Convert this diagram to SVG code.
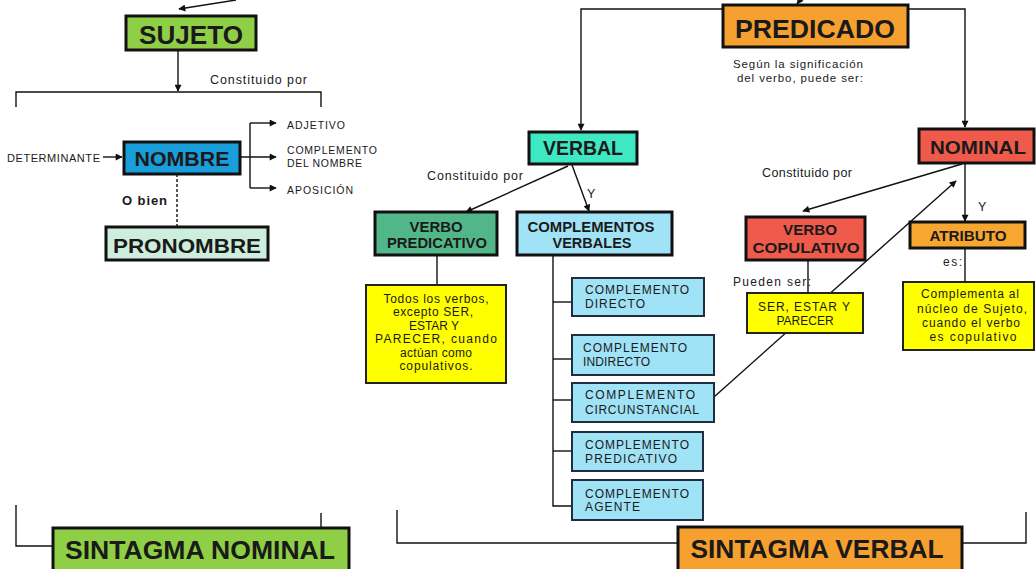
<svg xmlns="http://www.w3.org/2000/svg" width="1036" height="569" viewBox="0 0 1036 569">
<defs>
<marker id="ah" viewBox="0 0 10 10" refX="9" refY="5" markerWidth="8" markerHeight="7" orient="auto" markerUnits="userSpaceOnUse"><path d="M0,0 L10,5 L0,10 z" fill="#111"/></marker>
</defs>
<style>
text{font-family:"Liberation Sans",Arial,sans-serif;fill:#1a1a1a}
.b{font-weight:bold}
.c{text-anchor:middle}
.box{stroke:#111;stroke-width:3}
.cb{fill:#a0e2f6;stroke:#1f2f3f;stroke-width:2}
.yb{fill:#ffff00;stroke:#222;stroke-width:2}
.ln{fill:none;stroke:#111;stroke-width:1.4}
.ar{marker-end:url(#ah)}
.s10{font-size:10.5px}
.s11{font-size:12px}
.s12{font-size:12.5px}
.s14{font-size:14px}
.big{font-size:26px}
</style>
<rect width="1036" height="569" fill="#ffffff"/>
<g id="connectors">
<line class="ln ar" x1="236" y1="0" x2="179" y2="9"/>
<line class="ln ar" x1="806" y1="-8" x2="797" y2="4"/>
<line class="ln ar" x1="178" y1="50" x2="178" y2="91"/>
<path class="ln" d="M16,107 V92 H321 V107"/>
<line class="ln ar" x1="103" y1="157" x2="122" y2="157"/>
<line class="ln ar" x1="240" y1="157" x2="276" y2="157"/>
<path class="ln" d="M250,123 V188"/>
<line class="ln ar" x1="250" y1="123" x2="276" y2="123"/>
<line class="ln ar" x1="250" y1="188" x2="276" y2="188"/>
<line class="ln" x1="177" y1="174" x2="177" y2="227" stroke-dasharray="3,2"/>
<path class="ln ar" d="M723,9 H581 V130"/>
<path class="ln ar" d="M908,9 H965 V127"/>
<line class="ln ar" x1="568" y1="166" x2="466" y2="212"/>
<line class="ln ar" x1="572" y1="165" x2="589" y2="211"/>
<line class="ln" x1="437" y1="255" x2="437" y2="285"/>
<path class="ln" d="M553,255 V506 H572"/>
<line class="ln" x1="553" y1="302" x2="572" y2="302"/>
<line class="ln" x1="553" y1="359" x2="572" y2="359"/>
<line class="ln" x1="553" y1="400" x2="572" y2="400"/>
<line class="ln" x1="553" y1="451" x2="572" y2="451"/>
<line class="ln ar" x1="714" y1="397" x2="956" y2="181"/>
<line class="ln ar" x1="962" y1="164" x2="803" y2="211"/>
<line class="ln ar" x1="965" y1="163" x2="965" y2="221"/>
<line class="ln" x1="808" y1="260" x2="808" y2="293"/>
<line class="ln" x1="965" y1="248" x2="965" y2="282"/>
<path class="ln" d="M16,505 V546 H53"/>
<line class="ln" x1="321" y1="513" x2="321" y2="528"/>
<path class="ln" d="M397,510 V543 H678"/>
<path class="ln" d="M962,543 H1026 V512"/>
<text class="s12" x="210" y="84" textLength="97" lengthAdjust="spacing">Constituido por</text>
<text class="b" x="122" y="205" font-size="13" textLength="45" lengthAdjust="spacing">O bien</text>
<text x="733" y="68" font-size="11.5" textLength="130" lengthAdjust="spacing">Según la significación</text>
<text x="737" y="82" font-size="11.5" textLength="126" lengthAdjust="spacing">del verbo, puede ser:</text>
<text class="s12" x="427" y="180" textLength="96" lengthAdjust="spacing">Constituido por</text>
<text class="s12" x="587" y="198">Y</text>
<text class="s12" x="762" y="177" textLength="90" lengthAdjust="spacing">Constituido por</text>
<text class="s12" x="978" y="211">Y</text>
<text class="s11" x="733" y="286" textLength="78" lengthAdjust="spacing">Pueden ser:</text>
<text class="s11" x="943" y="266" textLength="19" lengthAdjust="spacing">es:</text>
</g>
<g id="sujeto">
<rect class="box" x="126" y="16" width="130" height="34" fill="#8fcf45"/>
<text class="b c big" x="191" y="44" textLength="104" lengthAdjust="spacingAndGlyphs">SUJETO</text>
</g>
<g id="determinante">
<text x="7" y="162" font-size="11" textLength="93" lengthAdjust="spacing">DETERMINANTE</text>
</g>
<g id="nombre">
<rect class="box" x="124" y="142" width="116" height="32" fill="#1a9ddb"/>
<text class="b c" x="182" y="166" font-size="20" fill="#0d1b2a" textLength="95" lengthAdjust="spacingAndGlyphs">NOMBRE</text>
</g>
<g id="adjetivo"><text class="s10" x="287" y="129" textLength="58" lengthAdjust="spacing">ADJETIVO</text></g>
<g id="complemento-nombre">
<text class="s10" x="287" y="154" textLength="90" lengthAdjust="spacing">COMPLEMENTO</text>
<text class="s10" x="287" y="167" textLength="75" lengthAdjust="spacing">DEL NOMBRE</text>
</g>
<g id="aposicion"><text class="s10" x="287" y="194" textLength="66" lengthAdjust="spacing">APOSICIÓN</text></g>
<g id="pronombre">
<rect class="box" x="106" y="227" width="162" height="33" fill="#cdeedd"/>
<text class="b c" x="187" y="253" font-size="21" textLength="148" lengthAdjust="spacingAndGlyphs">PRONOMBRE</text>
</g>
<g id="predicado">
<rect class="box" x="723" y="5" width="185" height="42" fill="#f6a030"/>
<text class="b c big" x="815" y="38" fill="#2b1a0a" textLength="160" lengthAdjust="spacingAndGlyphs">PREDICADO</text>
</g>
<g id="verbal">
<rect class="box" x="529" y="132" width="108" height="32" fill="#3ee8c2"/>
<text class="b c" x="583" y="155" font-size="20" textLength="80" lengthAdjust="spacingAndGlyphs">VERBAL</text>
</g>
<g id="verbo-predicativo">
<rect class="box" x="375" y="212" width="122" height="43" fill="#52b788"/>
<text class="b c s14" x="436" y="232" textLength="53" lengthAdjust="spacingAndGlyphs">VERBO</text>
<text class="b c s14" x="437" y="248" textLength="100" lengthAdjust="spacingAndGlyphs">PREDICATIVO</text>
</g>
<g id="complementos-verbales">
<rect class="box" x="517" y="212" width="155" height="43" fill="#a0e2f6"/>
<text class="b c s14" x="591" y="232" textLength="127" lengthAdjust="spacingAndGlyphs">COMPLEMENTOS</text>
<text class="b c s14" x="592" y="248" textLength="79" lengthAdjust="spacingAndGlyphs">VERBALES</text>
</g>
<g id="todos-verbos">
<rect class="yb" x="366" y="285" width="140" height="98"/>
<text class="c s11" x="436" y="303" textLength="105" lengthAdjust="spacing">Todos los verbos,</text>
<text class="c s11" x="433" y="316" textLength="80" lengthAdjust="spacing">excepto SER,</text>
<text class="c s11" x="434" y="330">ESTAR Y</text>
<text class="c s11" x="436" y="343" textLength="122" lengthAdjust="spacing">PARECER, cuando</text>
<text class="c s11" x="436" y="357" textLength="72" lengthAdjust="spacing">actúan como</text>
<text class="c s11" x="436" y="370" textLength="73" lengthAdjust="spacing">copulativos.</text>
</g>
<g id="c-directo">
<rect class="cb" x="572" y="278" width="132" height="38"/>
<text class="s11" x="585" y="294" textLength="104" lengthAdjust="spacing">COMPLEMENTO</text>
<text class="s11" x="585" y="308" textLength="60" lengthAdjust="spacing">DIRECTO</text>
</g>
<g id="c-indirecto">
<rect class="cb" x="572" y="335" width="142" height="40"/>
<text class="s11" x="583" y="352" textLength="104" lengthAdjust="spacing">COMPLEMENTO</text>
<text class="s11" x="583" y="366" textLength="67" lengthAdjust="spacing">INDIRECTO</text>
</g>
<g id="c-circunstancial">
<rect class="cb" x="572" y="383" width="142" height="39"/>
<text class="s11" x="585" y="399" textLength="110" lengthAdjust="spacing">COMPLEMENTO</text>
<text class="s11" x="585" y="414" textLength="114" lengthAdjust="spacing">CIRCUNSTANCIAL</text>
</g>
<g id="c-predicativo">
<rect class="cb" x="572" y="432" width="131" height="39"/>
<text class="s11" x="585" y="449" textLength="104" lengthAdjust="spacing">COMPLEMENTO</text>
<text class="s11" x="585" y="463" textLength="92" lengthAdjust="spacing">PREDICATIVO</text>
</g>
<g id="c-agente">
<rect class="cb" x="572" y="480" width="131" height="40"/>
<text class="s11" x="585" y="498" textLength="104" lengthAdjust="spacing">COMPLEMENTO</text>
<text class="s11" x="585" y="511" textLength="55" lengthAdjust="spacing">AGENTE</text>
</g>
<g id="nominal">
<rect class="box" x="919" y="129" width="115" height="34" fill="#ef5a4a"/>
<text class="b c" x="978" y="154" font-size="19" textLength="96" lengthAdjust="spacingAndGlyphs">NOMINAL</text>
</g>
<g id="verbo-copulativo">
<rect class="box" x="746" y="217" width="119" height="43" fill="#ef5a4a"/>
<text class="b c s14" x="810" y="235" textLength="54" lengthAdjust="spacingAndGlyphs">VERBO</text>
<text class="b c s14" x="806" y="253" textLength="107" lengthAdjust="spacingAndGlyphs">COPULATIVO</text>
</g>
<g id="atributo">
<rect class="box" x="910" y="222" width="115" height="26" fill="#f7a630"/>
<text class="b c s14" x="968" y="241" textLength="77" lengthAdjust="spacingAndGlyphs">ATRIBUTO</text>
</g>
<g id="ser-estar">
<rect class="yb" x="747" y="293" width="116" height="40"/>
<text class="c s11" x="804" y="311" textLength="92" lengthAdjust="spacing">SER, ESTAR Y</text>
<text class="c s11" x="805" y="325">PARECER</text>
</g>
<g id="complementa">
<rect class="yb" x="903" y="282" width="131" height="68"/>
<text class="c s11" x="970" y="298" textLength="98" lengthAdjust="spacing">Complementa al</text>
<text class="c s11" x="972" y="313" textLength="110" lengthAdjust="spacing">núcleo de Sujeto,</text>
<text class="c s11" x="971" y="327" textLength="98" lengthAdjust="spacing">cuando el verbo</text>
<text class="c s11" x="973" y="341" textLength="87" lengthAdjust="spacing">es copulativo</text>
</g>
<g id="sintagma-nominal">
<rect class="box" x="53" y="528" width="296" height="46" fill="#8fcf45"/>
<text class="b c big" x="200" y="559" textLength="270" lengthAdjust="spacingAndGlyphs">SINTAGMA NOMINAL</text>
</g>
<g id="sintagma-verbal">
<rect class="box" x="678" y="527" width="284" height="47" fill="#f6a030"/>
<text class="b c big" x="817" y="558" fill="#2b1a0a" textLength="253" lengthAdjust="spacingAndGlyphs">SINTAGMA VERBAL</text>
</g>
</svg>
